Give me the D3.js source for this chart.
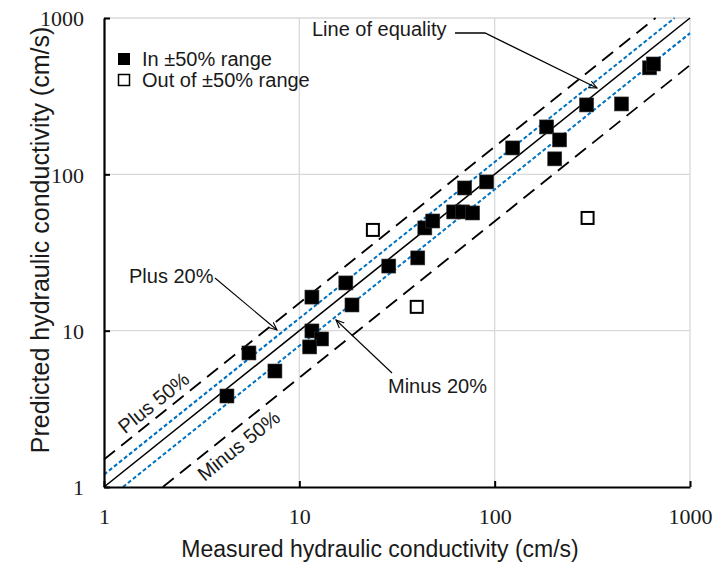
<!DOCTYPE html>
<html>
<head>
<meta charset="utf-8">
<script src="https://cdn.jsdelivr.net/npm/d3@7"></script>
<style>
  html, body { margin: 0; padding: 0; background: #fff; }
  svg { display: block; }
  .sans { font-family: "Liberation Sans", Arial, sans-serif; fill: #1a1a1a; }
  .serif { font-family: "Liberation Serif", "Times New Roman", serif; fill: #1a1a1a; }
</style>
</head>
<body>
<svg id="chart" width="713" height="562"></svg>
<script>
// ---- data ----
const inRangeX = [4.26, 5.52, 7.5, 11.6, 11.6, 13.0, 11.3, 17.3, 18.6, 28.7, 40.4, 43.9, 48.2, 61.7, 68.6, 77.1, 70.2, 91, 123.7, 184.5, 215, 203, 295.6, 446, 621, 650];
const inRangeY = [3.82, 7.2, 5.52, 16.4, 9.96, 8.85, 7.87, 20.2, 14.6, 25.9, 29.2, 45.4, 50.3, 57.5, 57.5, 56.6, 81.8, 89.4, 147.5, 201, 166, 125.6, 278, 282, 480, 508];
const outRangeX = [23.8, 39.9, 299];
const outRangeY = [44.1, 14.2, 52.6];
const tickValues = [1, 10, 100, 1000];
const tickLabels = ["1", "10", "100", "1000"];
const refFactors = [1.5, 1.2, 1, 0.8, 0.5];
const refStyles = ["dash50", "dot20", "solid", "dot20", "dash50"];
const legendLabels = ["In \u00b150% range", "Out of \u00b150% range"];

// ---- layout ----
const svg = d3.select("#chart");
const pL = 104, pR = 690, pT = 18, pB = 487;
const x = d3.scaleLog().domain([1, 1000]).range([pL, pR]);
const y = d3.scaleLog().domain([1, 1000]).range([pB, pT]);

// gridlines
const grid = svg.append("g");
grid.selectAll(".gx").data(tickValues.slice(1)).enter().append("line")
  .attr("x1", d => x(d)).attr("x2", d => x(d)).attr("y1", pT).attr("y2", pB)
  .attr("stroke", "#d9d9d9").attr("stroke-width", 1.3);
grid.selectAll(".gy").data(tickValues.slice(1)).enter().append("line")
  .attr("x1", pL).attr("x2", pR).attr("y1", d => y(d)).attr("y2", d => y(d))
  .attr("stroke", "#d9d9d9").attr("stroke-width", 1.3);

// reference lines
const lineGen = d3.line().x(d => x(d[0])).y(d => y(d[1]));
const refG = svg.append("g");
refFactors.forEach((f, i) => {
  const x0 = Math.max(1, 1 / f), x1 = Math.min(1000, 1000 / f);
  const p = refG.append("path").datum([[x0, x0 * f], [x1, x1 * f]]).attr("d", lineGen).attr("fill", "none");
  if (refStyles[i] === "solid") p.attr("stroke", "#000").attr("stroke-width", 1.6);
  else if (refStyles[i] === "dash50") p.attr("stroke", "#000").attr("stroke-width", 1.8).attr("stroke-dasharray", "14,8");
  else p.attr("stroke", "#0070C0").attr("stroke-width", 2).attr("stroke-dasharray", "4,2.4");
});

// axes
const xAxis = d3.axisBottom(x).tickValues(tickValues).tickFormat((d, i) => tickLabels[i]).tickSizeInner(-6).tickSizeOuter(0).tickPadding(0);
const yAxis = d3.axisLeft(y).tickValues(tickValues).tickFormat((d, i) => tickLabels[i]).tickSizeInner(-6).tickSizeOuter(0).tickPadding(0);
const gx = svg.append("g").attr("transform", `translate(0,${pB})`).call(xAxis);
const gy = svg.append("g").attr("transform", `translate(${pL},0)`).call(yAxis);
[gx, gy].forEach(g => {
  g.select(".domain").attr("stroke", "#000").attr("stroke-width", 2.2);
  g.selectAll(".tick line").attr("stroke", "#000").attr("stroke-width", 2);
  g.selectAll(".tick text").attr("class", "serif").attr("font-size", 22).attr("fill", "#1a1a1a");
});
gx.selectAll(".tick text").attr("y", 37).attr("dy", 0);
gy.selectAll(".tick text").attr("x", -20).attr("dy", "0.35em");

// points
const pts = svg.append("g");
const s = 14;
pts.selectAll(".in").data(inRangeX.map((v, i) => [v, inRangeY[i]])).enter().append("rect")
  .attr("x", d => x(d[0]) - s / 2).attr("y", d => y(d[1]) - s / 2).attr("width", s).attr("height", s)
  .attr("fill", "#000").attr("stroke", "#333").attr("stroke-width", 0.6);
const so = 12;
pts.selectAll(".out").data(outRangeX.map((v, i) => [v, outRangeY[i]])).enter().append("rect")
  .attr("x", d => x(d[0]) - so / 2).attr("y", d => y(d[1]) - so / 2).attr("width", so).attr("height", so)
  .attr("fill", "#fff").attr("stroke", "#000").attr("stroke-width", 2);

// legend
const lg = svg.append("g");
lg.append("rect").attr("x", 118).attr("y", 53).attr("width", 12).attr("height", 12).attr("fill", "#000");
lg.append("rect").attr("x", 118.5).attr("y", 74.5).attr("width", 11).attr("height", 11).attr("fill", "#fff").attr("stroke", "#000").attr("stroke-width", 1.5);
lg.selectAll("text").data(legendLabels).enter().append("text").attr("class", "sans")
  .attr("x", 142).attr("y", (d, i) => 66 + i * 21).attr("font-size", 20).text(d => d);

// arrow marker
svg.append("defs").append("marker").attr("id", "arr").attr("viewBox", "0 0 10 10")
  .attr("refX", 9).attr("refY", 5).attr("markerWidth", 9).attr("markerHeight", 9)
  .attr("markerUnits", "userSpaceOnUse").attr("orient", "auto")
  .append("path").attr("d", "M0,1 L9,5 L0,9").attr("fill", "none").attr("stroke", "#000").attr("stroke-width", 1.2);

const ann = svg.append("g");
ann.append("text").attr("class", "sans").attr("x", 312).attr("y", 36).attr("font-size", 20).text("Line of equality");
ann.append("polyline").attr("points", "455,33 485,33 597,88").attr("fill", "none").attr("stroke", "#000").attr("stroke-width", 1.3).attr("marker-end", "url(#arr)");
ann.append("text").attr("class", "sans").attr("x", 129).attr("y", 283).attr("font-size", 20).text("Plus 20%");
ann.append("line").attr("x1", 215).attr("y1", 278).attr("x2", 277).attr("y2", 330).attr("stroke", "#000").attr("stroke-width", 1.1).attr("marker-end", "url(#arr)");
ann.append("text").attr("class", "sans").attr("x", 388).attr("y", 393).attr("font-size", 20).text("Minus 20%");
ann.append("line").attr("x1", 392).attr("y1", 373).attr("x2", 336).attr("y2", 320).attr("stroke", "#000").attr("stroke-width", 1.1).attr("marker-end", "url(#arr)");
const ang = -Math.atan((pB - pT) / 3 / ((pR - pL) / 3)) * 180 / Math.PI;
ann.append("text").attr("class", "sans").attr("font-size", 20).attr("text-anchor", "middle")
  .attr("transform", `translate(158,408) rotate(${ang})`).text("Plus 50%");
ann.append("text").attr("class", "sans").attr("font-size", 20).attr("text-anchor", "middle")
  .attr("transform", `translate(243,451) rotate(${ang})`).text("Minus 50%");

// axis titles
svg.append("text").attr("class", "sans").attr("x", 380).attr("y", 557).attr("text-anchor", "middle").attr("font-size", 23)
  .text("Measured hydraulic conductivity (cm/s)");
svg.append("text").attr("class", "sans").attr("transform", "translate(49,240) rotate(-90)").attr("text-anchor", "middle").attr("font-size", 25)
  .text("Predicted hydraulic conductivity (cm/s)");
</script>
</body>
</html>
